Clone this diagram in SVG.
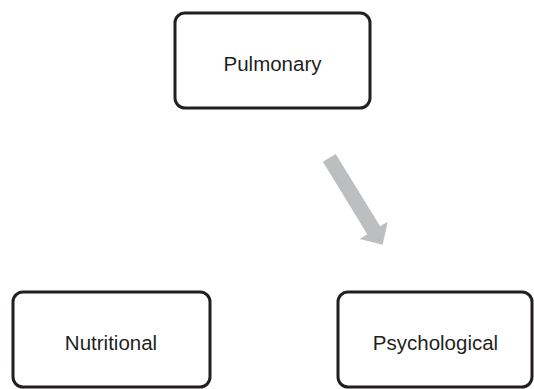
<svg xmlns="http://www.w3.org/2000/svg" width="534" height="389" viewBox="0 0 534 389">
<style>
.box{fill:#fff;stroke:#231f20;stroke-width:3}
.lbl{font-family:"Liberation Sans",Arial,sans-serif;font-size:20.5px;fill:#231f20;text-anchor:middle}
.arr{fill:#bcbec0}
</style>
<rect width="534" height="389" fill="#fff"/>
<g id="connectors">
<polygon class="arr" transform="translate(329.3,157.8) rotate(58.5)" points="0,-7.5 85,-7.5 85,-16.5 102,0 85,16.5 85,7.5 0,7.5"/>
</g>
<g id="pulmonary">
<rect class="box" x="175" y="13" width="195" height="95" rx="10"/>
<text class="lbl" x="272.5" y="71">Pulmonary</text>
</g>
<g id="nutritional">
<rect class="box" x="13" y="292" width="197" height="95" rx="10"/>
<text class="lbl" x="111" y="350">Nutritional</text>
</g>
<g id="psychological">
<rect class="box" x="338" y="292" width="194" height="95" rx="10"/>
<text class="lbl" x="435.5" y="350">Psychological</text>
</g>
</svg>
